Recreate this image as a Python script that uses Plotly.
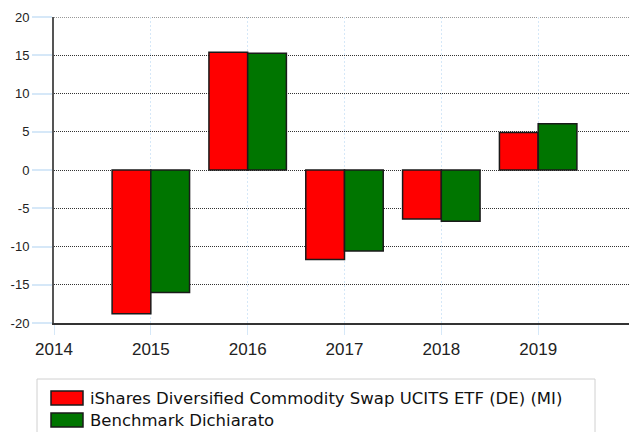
import plotly.graph_objects as go

years = [2015, 2016, 2017, 2018, 2019]
fund = [-18.8, 15.4, -11.7, -6.4, 4.9]
bench = [-16.0, 15.25, -10.6, -6.7, 6.05]
names = ["iShares Diversified Commodity Swap UCITS ETF (DE) (MI)", "Benchmark Dichiarato"]
colors = ["#ff0000", "#007500"]
yticks = [-20, -15, -10, -5, 0, 5, 10, 15, 20]
xticks = [2014, 2015, 2016, 2017, 2018, 2019]

# the page body has an 8px margin; work in page pixels and offset
OFF = 8
W, H = 637 - OFF, 432 - OFF
PL, PR, PT, PB = 54, 635, 17, 323  # plot area in page pixels
L, R, T, B = PL - OFF, W - (PR - OFF), PT - OFF, H - (PB - OFF)
PW, PH = W - L - R, H - T - B


def px(x):
    return (x - OFF - L) / PW


def py(y):
    return (H - B - (y - OFF)) / PH


fig = go.Figure()
for n, vals, c in zip(names, [fund, bench], colors):
    fig.add_trace(go.Bar(x=years, y=vals, name=n,
                         marker=dict(color=c, line=dict(color="#1a1a1a", width=1.5))))

FONT = "Liberation Sans, Arial, sans-serif"
fig.update_layout(
    width=W, height=H,
    margin=dict(l=L, r=R, t=T, b=B, pad=0),
    paper_bgcolor="white", plot_bgcolor="white",
    barmode="group", bargap=0.2, bargroupgap=0,
    font=dict(family=FONT, size=13, color="#222"),
    showlegend=False,
)
fig.update_xaxes(range=[2014, 2020], tickvals=xticks, ticktext=[str(v) for v in xticks],
                 showgrid=True, gridcolor="#d6e8f8", griddash="2px,2px", gridwidth=1,
                 showline=True, linecolor="#333", linewidth=2,
                 ticks="outside", ticklen=10, tickcolor="#d6e8f8", tickwidth=1,
                 tickfont=dict(size=17, family=FONT, color="#222"),
                 zeroline=False, fixedrange=True, automargin=False)
fig.update_yaxes(range=[-20, 20], tickvals=yticks, ticktext=[str(v) for v in yticks],
                 showgrid=True, gridcolor="#333", griddash="1px,1px", gridwidth=1,
                 showline=True, linecolor="#555", linewidth=2,
                 ticks="outside", ticklen=20, tickcolor="#d6e8f8", tickwidth=2,
                 tickfont=dict(size=13, family=FONT, color="#222"),
                 zeroline=False, fixedrange=True, automargin=False)

# top gridline (plotly omits the gridline on the plot edge)
fig.add_shape(type="line", xref="paper", yref="y", x0=0, x1=1, y0=yticks[-1], y1=yticks[-1],
              line=dict(color="#333", width=1, dash="1px,1px"), layer="below")

# legend frame
fig.add_shape(type="rect", xref="paper", yref="paper",
              x0=px(37), x1=px(595), y0=py(445), y1=py(379),
              line=dict(color="#d0d0d0", width=1), fillcolor="rgba(0,0,0,0)")
# legend entries
rows = [398, 420]
for n, c, yc in zip(names, colors, rows):
    fig.add_shape(type="rect", xref="paper", yref="paper",
                  x0=px(51), x1=px(83), y0=py(yc + 7), y1=py(yc - 7),
                  line=dict(color="#1a1a1a", width=1.5), fillcolor=c)
    fig.add_annotation(xref="paper", yref="paper", x=px(88), y=py(yc),
                       xanchor="left", yanchor="middle", showarrow=False,
                       text=n, font=dict(family="DejaVu Sans, Verdana, sans-serif", size=16.5, color="#111"))

fig.write_html("out.html")
